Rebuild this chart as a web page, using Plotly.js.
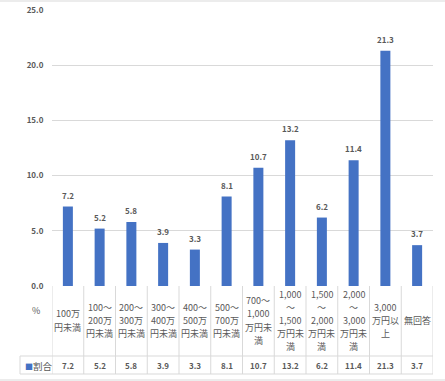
<!DOCTYPE html>
<html>
<head>
<meta charset="utf-8">
<script src="https://cdn.plot.ly/plotly-3.0.1.min.js"></script>
<style>html,body{margin:0;padding:0;background:#fff;}#chart{width:445px;height:381px;}</style>
</head>
<body>
<div id="chart"></div>
<script>
const categories = [
  "100万<br>円未満",
  "100～<br>200万<br>円未満",
  "200～<br>300万<br>円未満",
  "300～<br>400万<br>円未満",
  "400～<br>500万<br>円未満",
  "500～<br>700万<br>円未満",
  "700～<br>1,000<br>万円未<br>満",
  "1,000<br>～<br>1,500<br>万円未<br>満",
  "1,500<br>～<br>2,000<br>万円未<br>満",
  "2,000<br>～<br>3,000<br>万円未<br>満",
  "3,000<br>万円以<br>上",
  "無回答"
];
const values = [7.2, 5.2, 5.8, 3.9, 3.3, 8.1, 10.7, 13.2, 6.2, 11.4, 21.3, 3.7];
const seriesName = "割合";
const unitLabel = "%";
const yTicks = [0, 5, 10, 15, 20, 25];

const W = 445, H = 381;
const L = 52, R = 433, T = 10, B = 286;
const pw = R - L, ph = B - T;
const py = p => (B - p) / ph;
const px = p => (p - L) / pw;
const FONT = "'Noto Sans CJK JP', 'Noto Sans', sans-serif";
const GRAY = "#595959";
const LINE = "#d9d9d9";
const BLUE = "#4472c4";

const xs = categories.map((c, i) => i);
const n = categories.length;

const annotations = [];
const shapes = [];

// data labels
values.forEach((v, i) => {
  annotations.push({
    x: i, y: v, xref: 'x', yref: 'y', text: '<b>' + v.toFixed(1) + '</b>',
    showarrow: false, yanchor: 'bottom', yshift: 4,
    font: {family: FONT, size: 8, color: GRAY}
  });
});

// table header labels (one annotation per line for Excel-like line spacing)
const LH = 13.2, CY = 320.5;
categories.forEach((c, i) => {
  const lines = c.split('<br>');
  lines.forEach((ln, k) => {
    const yy = CY + (k - (lines.length - 1) / 2) * LH;
    annotations.push({
      x: i, y: py(yy), xref: 'x', yref: 'paper', text: ln,
      showarrow: false, yanchor: 'middle', xanchor: 'center',
      font: {family: FONT, size: 9, color: GRAY}
    });
  });
  annotations.push({
    x: i, y: py(365.5), xref: 'x', yref: 'paper', text: '<b>' + values[i].toFixed(1) + '</b>',
    showarrow: false, yanchor: 'middle', xanchor: 'center',
    font: {family: FONT, size: 8, color: GRAY}
  });
});
annotations.push({
  x: px(36), y: py(310), xref: 'paper', yref: 'paper', text: unitLabel,
  showarrow: false, xanchor: 'center', yanchor: 'middle',
  font: {family: FONT, size: 9, color: GRAY}
});
annotations.push({
  x: px(23), y: py(365.5), xref: 'paper', yref: 'paper',
  text: '<span style="color:' + BLUE + ';font-size:8px">■</span>' + seriesName,
  showarrow: false, xanchor: 'left', yanchor: 'middle',
  font: {family: FONT, size: 9.5, color: GRAY}
});

// table lines
for (let i = 0; i <= n; i++) {
  shapes.push({type: 'line', xref: 'x', yref: 'paper', x0: i - 0.5, x1: i - 0.5,
    y0: py(286), y1: py(374), line: {color: LINE, width: 1}});
}
[356, 374].forEach(yy => {
  shapes.push({type: 'line', xref: 'paper', yref: 'paper', x0: px(20), x1: 1,
    y0: py(yy), y1: py(yy), line: {color: LINE, width: 1}});
});
shapes.push({type: 'line', xref: 'paper', yref: 'paper', x0: px(20), x1: px(20),
  y0: py(356), y1: py(374), line: {color: LINE, width: 1}});
// chart border
[1, 380].forEach(yy => {
  shapes.push({type: 'line', xref: 'paper', yref: 'paper', x0: px(0), x1: px(W),
    y0: py(yy), y1: py(yy), line: {color: LINE, width: 1}});
});

const data = [{
  type: 'bar', x: xs, y: values, name: seriesName,
  marker: {color: BLUE}, hoverinfo: 'none'
}];

const layout = {
  width: W, height: H,
  margin: {l: L, r: W - R, t: T, b: H - B, pad: 0},
  paper_bgcolor: '#fff', plot_bgcolor: '#fff',
  showlegend: false,
  bargap: 0.685,
  xaxis: {range: [-0.5, n - 0.5], showticklabels: false, showgrid: false,
    zeroline: false, showline: false, ticks: '', fixedrange: true},
  yaxis: {range: [0, 25], tickvals: yTicks, ticktext: yTicks.map(v => '<b>' + v.toFixed(1) + '</b>'),
    showgrid: true, gridcolor: LINE, gridwidth: 1, zeroline: false, showline: false,
    ticks: 'outside', ticklen: 6, tickcolor: 'rgba(0,0,0,0)',
    tickfont: {family: FONT, size: 8, color: GRAY}, fixedrange: true},
  annotations: annotations,
  shapes: shapes,
  font: {family: FONT}
};

Plotly.newPlot('chart', data, layout, {staticPlot: true});
</script>
</body>
</html>
